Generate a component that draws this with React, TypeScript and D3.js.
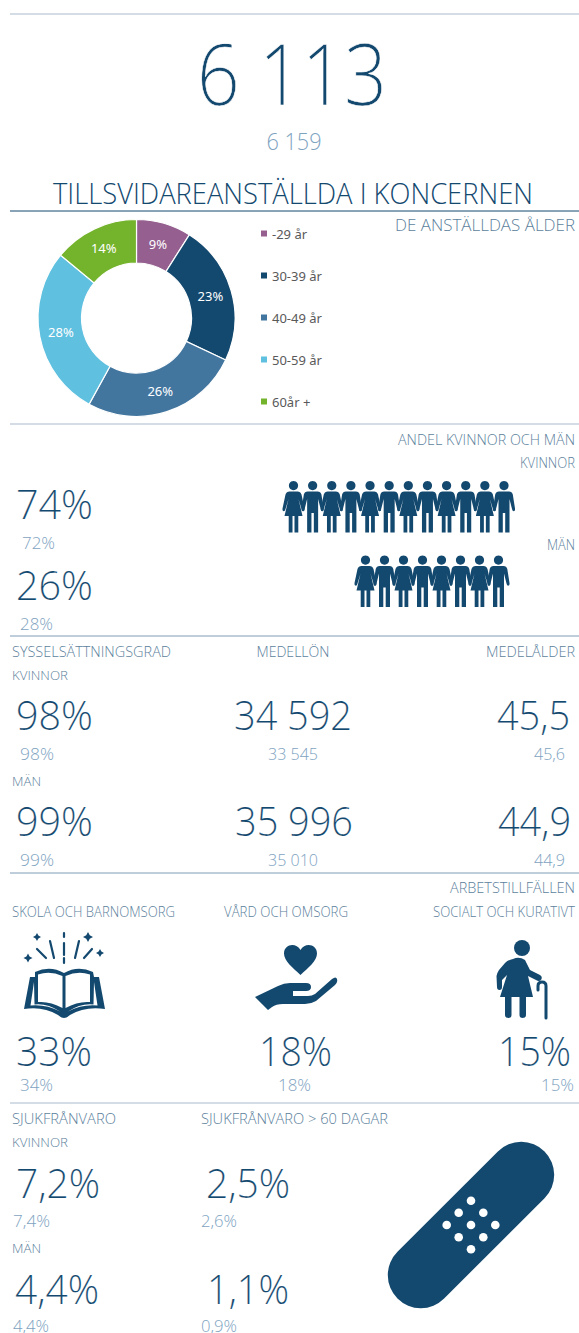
import React from "react";
import * as d3 from "d3";

const ageLabels = ["-29 år", "30-39 år", "40-49 år", "50-59 år", "60år +"];
const ageValues = [9, 23, 26, 28, 14];
const ageColors = ["#95608f", "#14496f", "#43769f", "#5fc0e0", "#74b32c"];
const womenFigures = 12;
const menFigures = 8;

const DARK = "#14496f";
const MID = "#5c7f9c";
const PALE = "#7ea3bf";
const LINE = "#a9bccd";
const FONT = "'Open Sans', sans-serif";

type T = [string, number, number, number, "start" | "middle" | "end", string, number?];
// text, x, baseline y, size, anchor, colour, target width
const texts: T[] = [
  ["6 113", 292, 105, 84, "middle", DARK, 190],
  ["6 159", 294, 150, 23, "middle", PALE, 55],
  ["TILLSVIDAREANSTÄLLDA I KONCERNEN", 293, 204, 30, "middle", DARK, 480],
  ["DE ANSTÄLLDAS ÅLDER", 575, 231, 17, "end", MID, 180],
  ["ANDEL KVINNOR OCH MÄN", 575, 445, 14, "end", MID, 177],
  ["KVINNOR", 575, 468, 14, "end", MID, 55],
  ["MÄN", 575, 550, 14, "end", MID, 28],
  ["74%", 16, 519, 40, "start", DARK, 77],
  ["72%", 22, 549, 16, "start", PALE, 33],
  ["26%", 16, 600, 40, "start", DARK, 77],
  ["28%", 20, 630, 16, "start", PALE, 33],
  ["SYSSELSÄTTNINGSGRAD", 12, 657, 14, "start", MID, 159],
  ["MEDELLÖN", 293, 657, 14, "middle", MID, 73],
  ["MEDELÅLDER", 575, 657, 14, "end", MID, 89],
  ["KVINNOR", 12, 680, 13, "start", MID, 56],
  ["98%", 16, 730, 40, "start", DARK, 77],
  ["34 592", 293, 730, 40, "middle", DARK, 118],
  ["45,5", 570, 730, 40, "end", DARK, 73],
  ["98%", 20, 760, 16, "start", PALE, 34],
  ["33 545", 293, 760, 16, "middle", PALE, 50],
  ["45,6", 565, 760, 16, "end", PALE, 31],
  ["MÄN", 12, 786, 13, "start", MID, 29],
  ["99%", 16, 836, 40, "start", DARK, 77],
  ["35 996", 294, 836, 40, "middle", DARK, 118],
  ["44,9", 571, 836, 40, "end", DARK, 73],
  ["99%", 20, 866, 16, "start", PALE, 34],
  ["35 010", 293, 866, 16, "middle", PALE, 50],
  ["44,9", 565, 866, 16, "end", PALE, 31],
  ["ARBETSTILLFÄLLEN", 575, 893, 14, "end", MID, 125],
  ["SKOLA OCH BARNOMSORG", 12, 917, 14, "start", MID, 163],
  ["VÅRD OCH OMSORG", 224, 917, 14, "start", MID, 124],
  ["SOCIALT OCH KURATIVT", 575, 917, 14, "end", MID, 142],
  ["33%", 16, 1066, 40, "start", DARK, 76],
  ["18%", 259, 1066, 40, "start", DARK, 73],
  ["15%", 498, 1066, 40, "start", DARK, 73],
  ["34%", 20, 1091, 16, "start", PALE, 33],
  ["18%", 278, 1091, 16, "start", PALE, 33],
  ["15%", 541, 1091, 16, "start", PALE, 33],
  ["SJUKFRÅNVARO", 12, 1124, 14, "start", MID, 104],
  ["SJUKFRÅNVARO > 60 DAGAR", 201, 1124, 14, "start", MID, 187],
  ["KVINNOR", 12, 1147, 13, "start", MID, 56],
  ["7,2%", 16, 1198, 40, "start", DARK, 84],
  ["2,5%", 206, 1198, 40, "start", DARK, 84],
  ["7,4%", 13, 1227, 16, "start", PALE, 37],
  ["2,6%", 201, 1227, 16, "start", PALE, 36],
  ["MÄN", 12, 1253, 13, "start", MID, 29],
  ["4,4%", 15, 1304, 40, "start", DARK, 84],
  ["1,1%", 207, 1304, 40, "start", DARK, 82],
  ["4,4%", 13, 1332, 16, "start", PALE, 36],
  ["0,9%", 201, 1332, 16, "start", PALE, 36],
];

const ruleYs: [number, string, number][] = [
  [14, LINE, 1.2], [211, DARK, 1], [424, LINE, 1.2], [636, "#7f9cb5", 1], [873, "#7f9cb5", 1], [1103, LINE, 1.2],
];

const head = "M0 0a4.6 4.6 0 1 1-.01 0Z";
const woman = head + "M-4 10.500H4Q7 10.500 8 13.500L11 27.500Q11.300 30 9.800 30.300Q8.400 30.300 8 28L5 18L9 35H4.800V51.500H1V35H-1V51.500H-4.800V35H-9L-5 18L-8 28Q-8.400 30.300-9.800 30.300Q-11.300 30-11 27.500L-8 13.500Q-7 10.500-4 10.500Z";
const man = head + "M-5 10.500H5Q8 10.500 8.800 13.500L11 27.500Q11.300 30 9.800 30.300Q8.400 30.300 8 28L5.500 18V51.500H1.200V32H-1.200V51.500H-5.500V18L-8 28Q-8.400 30.300-9.800 30.300Q-11.300 30-11 27.500L-8.800 13.500Q-8 10.500-5 10.500Z";

const pie = d3.pie<number>().sort(null)(ageValues);
const arc = d3.arc<d3.PieArcDatum<number>>().innerRadius(55).outerRadius(98.5);
const labelArc = d3.arc<d3.PieArcDatum<number>>().innerRadius(77).outerRadius(77);

const legendY = d3.scalePoint<string>().domain(ageLabels).range([234, 402]);
const rowW = d3.range(womenFigures);
const rowM = d3.range(menFigures);
const xW = d3.scaleLinear().domain([0, womenFigures - 1]).range([293.500, 504]);
const xM = d3.scaleLinear().domain([0, menFigures - 1]).range([365.500, 498.500]);

const bandDots: [number, number][] = [
  [0, -24.300], [-12.300, -12.300], [12.300, -12.300], [-24.300, 0], [0, 0], [24.300, 0], [-12.300, 12.300], [12.300, 12.300], [0, 24.300],
];

const rays: [number, number, number, number][] = [
  [64, 933, 64, 937], [64, 943, 64, 955], [64, 958, 64, 963],
  [50, 941, 54, 958], [37, 949, 46, 958], [79, 941, 75, 958], [92, 949, 84, 958],
];

const sparkles: [number, number, number][] = [[37, 937, 4], [28, 958, 4.500], [88, 937, 5], [100, 953, 4]];

const sparklePath = (x: number, y: number, r: number) =>
  `M${x} ${y - r}L${x + r * 0.35} ${y - r * 0.35}L${x + r} ${y}L${x + r * 0.35} ${y + r * 0.35}L${x} ${y + r}L${x - r * 0.35} ${y + r * 0.35}L${x - r} ${y}L${x - r * 0.35} ${y - r * 0.35}Z`;

export default function App() {
  return (
    <svg width={579} height={1333} viewBox="0 0 579 1333" style={{ position: "absolute", left: 0, top: 0, background: "#fff" }}>
      {ruleYs.map(([y, c, w], i) => (
        <line key={i} x1={10} x2={579} y1={y} y2={y} stroke={c} strokeWidth={w} />
      ))}
      {texts.map(([s, x, y, size, anchor, fill, tw], i) => (
        <text key={i} x={x} y={y} fontSize={size} textAnchor={anchor} fill={fill} fontFamily={FONT} fontWeight={300}
          stroke={size >= 40 ? "#fff" : "none"} strokeWidth={size >= 80 ? 0.6 : 0.15}
          textLength={tw} lengthAdjust="spacingAndGlyphs">{s}</text>
      ))}
      <g transform="translate(136.500,318)">
        {pie.map((d, i) => (
          <path key={i} d={arc(d) || ""} fill={ageColors[i]} stroke="#fff" strokeWidth={1.2} />
        ))}
        {pie.map((d, i) => {
          const [x, y] = labelArc.centroid(d);
          return (
            <text key={i} x={x} y={y} dy="0.35em" fontSize={13} textAnchor="middle" fill="#fff" fontFamily="'Noto Sans', sans-serif">{ageValues[i]}%</text>
          );
        })}
      </g>
      {ageLabels.map((l, i) => (
        <g key={l}>
          <rect x={261} y={legendY(l)! - 3.500} width={6} height={6} fill={ageColors[i]} />
          <text x={272} y={legendY(l)! + 4.500} fontSize={13} fill="#595959" fontFamily="'Noto Sans', sans-serif">{l}</text>
        </g>
      ))}
      {rowW.map((i) => (
        <path key={i} d={i % 2 === 0 ? woman : man} fill={DARK} transform={`translate(${xW(i)},481)`} />
      ))}
      {rowM.map((i) => (
        <path key={i} d={i % 2 === 0 ? woman : man} fill={DARK} transform={`translate(${xM(i)},555.500)`} />
      ))}
      {/* book */}
      <g fill={DARK}>
        <path fillRule="evenodd" d="M35 972Q50 965 64 973Q78 965 93 972L94 977H99L105 1009Q85 1006 70 1015Q67 1018 64 1018Q61 1018 58 1015Q43 1006 24 1009L30 977H35ZM38 974.500Q50 970.500 62.500 976V1008Q50 1001 38 1002ZM90 974.500Q78 970.500 65.500 976V1008Q78 1001 90 1002ZM34 982L30.500 1005.500Q46 1004 60 1011.500Q47 1003 34.500 1004.500ZM94 982L97.500 1005.500Q82 1004 68 1011.500Q81 1003 93.500 1004.500Z" />
        {rays.map(([x1, y1, x2, y2], i) => (
          <line key={i} x1={x1} y1={y1} x2={x2} y2={y2} stroke={DARK} strokeWidth={2.200} strokeLinecap="round" />
        ))}
        {sparkles.map(([x, y, r], i) => (
          <path key={i} d={sparklePath(x, y, r)} />
        ))}
      </g>
      {/* heart and hand */}
      <g fill={DARK}>
        <path d="M300.500 975C293 968 284 961 284 953.500C284 944 296 942 300.500 950C305 942 317 944 317 953.500C317 961 308 968 300.500 975Z" />
        <path d="M255 997L278 986Q284 983 290 983H306Q311 983 311 987Q311 991 306 991H293V996H308Q312 996 315 994L332 979Q336 976 337 979Q338 982 335 985L316 1001Q311 1004 305 1004H283Q276 1004 272 1007L268 1010Z" />
      </g>
      {/* old woman */}
      <g fill={DARK}>
        <circle cx={522} cy={948} r={8} />
        <path d="M513 959Q519 956 525 960L530 970L540 975Q543 977 541 980Q539 982 536 980L528 976L533 997H526V1015Q526 1018 522.500 1018Q519.500 1018 519.500 1015V997H511.500V1015Q511.500 1018 508.500 1018Q505 1018 505 1015V997H500L507 975L502 980V987Q502 990 499.500 990Q497 990 497 987L496.500 976Q497 973 499 970L505 963Q508 960 513 959Z" />
        <path d="M538 990V986Q538 982 542 982Q546 982 546 986V1018" fill="none" stroke={DARK} strokeWidth={3} strokeLinecap="round" />
      </g>
      {/* bandage */}
      <g transform="translate(471,1225)">
        <rect x={-104} y={-33} width={208} height={66} rx={33} fill={DARK} transform="rotate(-45)" />
        {bandDots.map(([x, y], i) => (
          <circle key={i} cx={x} cy={y} r={4.300} fill="#fff" />
        ))}
      </g>
    </svg>
  );
}
